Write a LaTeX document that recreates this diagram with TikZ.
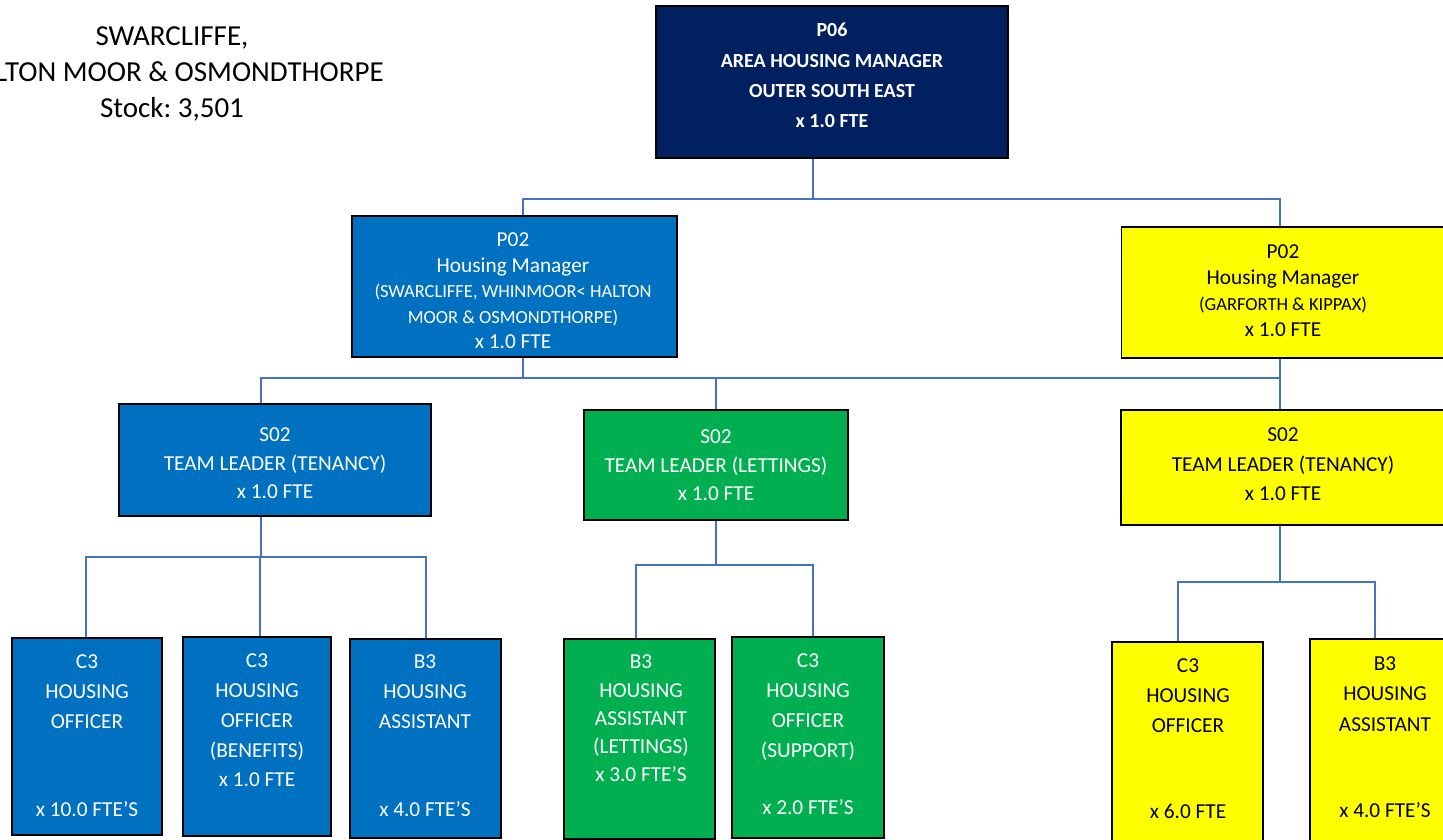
\documentclass[tikz,border=0pt]{standalone}
\usepackage{fontspec}
\setmainfont{Carlito}
\frenchspacing
\definecolor{navy}{HTML}{002060}
\definecolor{mblue}{HTML}{0070C0}
\definecolor{mgreen}{HTML}{00B050}
\definecolor{myellow}{HTML}{FFFF00}
\definecolor{linkc}{HTML}{4472C4}
\begin{document}
\begin{tikzpicture}[x=1pt,y=-1pt,
  box/.style={draw=black,line width=1.6pt,inner sep=0pt,minimum width=#1},
  conn/.style={draw=linkc,line width=1.8pt},
  txt/.style={align=center,inner sep=0pt,font=\fontsize{21.3}{29.5}\selectfont},
  wtxt/.style={txt,text=white},
]
\useasboundingbox (0,0) rectangle (1443,840);
\clip (0,0) rectangle (1443,840);
\fill[white] (0,0) rectangle (1443,840);

% title
\node[align=center,inner sep=0pt,font=\fontsize{29}{36}\selectfont] (title) at (172,73.5)
  {SWARCLIFFE,\\HALTON MOOR \& OSMONDTHORPE\\Stock: 3,501};

% boxes
\node[box=352pt,minimum height=152pt,fill=navy] (top) at (832,82) {};
\node[box=325pt,minimum height=141pt,fill=mblue] (hmb) at (514.5,286.5) {};
\node[box=325pt,minimum height=131pt,fill=myellow] (hmy) at (1284,292.5) {};
\node[box=312pt,minimum height=112pt,fill=mblue] (tlb) at (275,460) {};
\node[box=264pt,minimum height=110pt,fill=mgreen] (tlg) at (716,465) {};
\node[box=325pt,minimum height=115pt,fill=myellow] (tly) at (1283.5,467.5) {};
\node[box=150pt,minimum height=197pt,fill=mblue] (b1) at (87,736.5) {};
\node[box=148pt,minimum height=199pt,fill=mblue] (b2) at (257,736.5) {};
\node[box=151pt,minimum height=199pt,fill=mblue] (b3) at (425.5,738.5) {};
\node[box=151pt,minimum height=200pt,fill=mgreen] (g1) at (639.5,739) {};
\node[box=152pt,minimum height=201pt,fill=mgreen] (g2) at (808,737.5) {};
\node[box=151pt,minimum height=212pt,fill=myellow] (y1) at (1187.5,748) {};
\node[box=150pt,minimum height=215pt,fill=myellow] (y2) at (1385,746.5) {};

% texts
\node[wtxt,font=\fontsize{20}{30.3}\selectfont\bfseries] (ttop) at (832,75.5)
  {P06\\AREA HOUSING MANAGER\\OUTER SOUTH EAST\\x 1.0 FTE};
\node[wtxt,font=\fontsize{21.3}{25.5}\selectfont] (thmb) at (513,291)
  {P02\\Housing Manager\\{\fontsize{18.5}{25.5}\selectfont (SWARCLIFFE, WHINMOOR< HALTON}\\{\fontsize{18.5}{25.5}\selectfont MOOR \& OSMONDTHORPE)}\\x 1.0 FTE};
\node[txt,font=\fontsize{21.3}{26}\selectfont] (thmy) at (1283,291)
  {P02\\Housing Manager\\{\fontsize{18.5}{26}\selectfont (GARFORTH \& KIPPAX)}\\x 1.0 FTE};
\node[wtxt,font=\fontsize{21.3}{28.5}\selectfont] (ttlb) at (275,463.5)
  {S02\\TEAM LEADER (TENANCY)\\x 1.0 FTE};
\node[wtxt,font=\fontsize{21.3}{28.5}\selectfont] (ttlg) at (716,465.5)
  {S02\\TEAM LEADER (LETTINGS)\\x 1.0 FTE};
\node[txt,font=\fontsize{21.3}{29.5}\selectfont] (ttly) at (1283,464.5)
  {S02\\TEAM LEADER (TENANCY)\\x 1.0 FTE};
\node[wtxt,font=\fontsize{21.3}{30}\selectfont] (tb1) at (87,736)
  {C3\\HOUSING\\OFFICER\\[58pt]x 10.0 FTE’S};
\node[wtxt,font=\fontsize{21.3}{29.75}\selectfont] (tb2) at (257,720.5)
  {C3\\HOUSING\\OFFICER\\(BENEFITS)\\x 1.0 FTE};
\node[wtxt,font=\fontsize{21.3}{30}\selectfont] (tb3) at (425,736)
  {B3\\HOUSING\\ASSISTANT\\[58pt]x 4.0 FTE’S};
\node[wtxt,font=\fontsize{21.3}{28.25}\selectfont] (tg1) at (641,718.5)
  {B3\\HOUSING\\ASSISTANT\\(LETTINGS)\\x 3.0 FTE’S};
\node[wtxt,font=\fontsize{21.3}{29.7}\selectfont] (tg2) at (808,734.5)
  {C3\\HOUSING\\OFFICER\\(SUPPORT)\\[28pt]x 2.0 FTE’S};
\node[txt,font=\fontsize{21.3}{30}\selectfont] (ty1) at (1188,739)
  {C3\\HOUSING\\OFFICER\\[56pt]x 6.0 FTE};
\node[txt,font=\fontsize{21.3}{30.5}\selectfont] (ty2) at (1385,737)
  {B3\\HOUSING\\ASSISTANT\\[56pt]x 4.0 FTE’S};

% connectors
\coordinate (bus1) at (813,199);
\coordinate (bus2) at (716,378);
\coordinate (bus3) at (261,557);
\coordinate (bus4) at (716,565);
\coordinate (bus5) at (1280,582);

\draw[conn] ([xshift=-19pt]top.south) -- (bus1);
\draw[conn] ([xshift=8.5pt]hmb.north) |- (bus1) -| ([xshift=-4pt]hmy.north);

\draw[conn] ([xshift=8.5pt]hmb.south) -- ([xshift=8.5pt]hmb.south |- bus2);
\draw[conn] ([xshift=-14pt]tlb.north) |- (bus2) -| ([xshift=-3.5pt]tly.north);
\draw[conn] (bus2) -- (tlg.north);
\draw[conn] ([xshift=-4pt]hmy.south) -- ([xshift=-4pt]hmy.south |- bus2);

\draw[conn] ([xshift=-14pt]tlb.south) -- (bus3);
\draw[conn] ([xshift=-1pt]b1.north) |- (bus3) -| ([xshift=0.5pt]b3.north);
\draw[conn] ([xshift=3pt]b2.north) -- ([xshift=3pt]b2.north |- bus3);

\draw[conn] (tlg.south) -- (bus4);
\draw[conn] ([xshift=-3.5pt]g1.north) |- (bus4) -| ([xshift=5pt]g2.north);

\draw[conn] ([xshift=-3.5pt]tly.south) -- (bus5);
\draw[conn] ([xshift=-9.5pt]y1.north) |- (bus5) -| ([xshift=-10pt]y2.north);
\end{tikzpicture}
\end{document}
